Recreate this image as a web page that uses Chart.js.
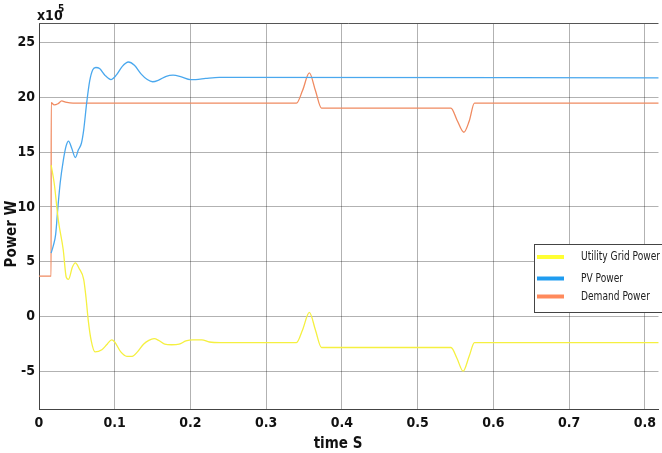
<!DOCTYPE html>
<html>
<head>
<meta charset="utf-8">
<script src="https://cdn.jsdelivr.net/npm/chart.js@4.4.0/dist/chart.umd.min.js"></script>
<style>
  html, body { margin: 0; padding: 0; background: #fff; overflow: hidden; }
  #wrap { width: 662px; height: 453px; position: relative; }
</style>
</head>
<body>
<div id="wrap"><canvas id="chart" width="662" height="453"></canvas></div>
<script>
// values in units of 1e5 W, time in seconds
const xTicks = [0, 0.1, 0.2, 0.3, 0.4, 0.5, 0.6, 0.7, 0.8];
const yTicks = [-5, 0, 5, 10, 15, 20, 25];

const gridTime = [0.016, 0.02, 0.0255, 0.032, 0.036, 0.039, 0.044, 0.048, 0.053, 0.059, 0.062, 0.065, 0.069, 0.074,
  0.083, 0.09, 0.096, 0.1, 0.108, 0.116, 0.123, 0.13, 0.138, 0.145, 0.152, 0.158, 0.166, 0.175, 0.185, 0.194,
  0.203, 0.215, 0.225, 0.24, 0.34, 0.348, 0.357, 0.365, 0.373, 0.544, 0.552, 0.56, 0.568, 0.575, 0.82];
const gridPower = [13.8, 12.2, 8.8, 6.1, 3.6, 3.4, 4.5, 4.9, 4.4, 3.4, 1.8, -0.3, -2.2, -3.2,
  -3.0, -2.5, -2.1, -2.3, -3.2, -3.6, -3.6, -3.2, -2.5, -2.15, -2.0, -2.15, -2.5, -2.55, -2.5, -2.2,
  -2.1, -2.1, -2.3, -2.35, -2.35, -1.2, 0.4, -1.2, -2.8, -2.8, -3.8, -4.95, -3.6, -2.35, -2.35];

const pvTime = [0.016, 0.019, 0.022, 0.025, 0.028, 0.032, 0.036, 0.039, 0.043, 0.048, 0.052, 0.056, 0.059, 0.063,
  0.067, 0.071, 0.075, 0.08, 0.087, 0.095, 0.102, 0.11, 0.118, 0.126, 0.135, 0.143, 0.15, 0.158, 0.168,
  0.177, 0.188, 0.2, 0.207, 0.22, 0.238, 0.82];
const pvPower = [5.8, 6.5, 7.5, 10, 12.2, 14.2, 15.6, 16.0, 15.4, 14.5, 15.2, 15.8, 17, 19.5,
  21.5, 22.5, 22.7, 22.6, 22.0, 21.6, 22.0, 22.8, 23.2, 22.9, 22.1, 21.6, 21.4, 21.55, 21.9,
  22.0, 21.85, 21.6, 21.6, 21.7, 21.8, 21.75];

const demandTime = [0, 0.016, 0.0161, 0.02, 0.025, 0.03, 0.035, 0.045, 0.34, 0.348, 0.357, 0.365, 0.373,
  0.544, 0.552, 0.561, 0.568, 0.575, 0.82];
const demandPower = [3.7, 3.7, 19.5, 19.3, 19.4, 19.65, 19.55, 19.45, 19.45, 20.6, 22.2, 20.6, 19.0,
  19.0, 17.9, 16.8, 17.8, 19.45, 19.45];

const seriesNames = ['Utility Grid Power', 'PV Power', 'Demand Power'];
const lineColors = ['#f5f040', '#4aa8ee', '#f08a60'];
const legendColors = ['#ffff33', '#1f9cf0', '#ff8a5c'];

const font = "'Liberation Sans Narrow', 'DejaVu Sans Condensed', Roboto, sans-serif";

function pts(xs, ys) {
  return xs.map((x, i) => ({ x: x, y: ys[i] }));
}

const extras = {
  id: 'extras',
  afterDatasetsDraw(chart) {
    const ctx = chart.ctx;
    const a = chart.chartArea;
    ctx.save();
    // top frame line
    ctx.strokeStyle = '#555';
    ctx.lineWidth = 1;
    ctx.beginPath();
    ctx.moveTo(a.left, a.top + 0.5);
    ctx.lineTo(a.right, a.top + 0.5);
    ctx.stroke();

    // exponent label
    ctx.fillStyle = '#111';
    ctx.textBaseline = 'alphabetic';
    ctx.textAlign = 'left';
    ctx.font = 'bold 14px ' + font;
    ctx.fillText('x10', 37, 20);
    ctx.font = 'bold 10px ' + font;
    ctx.fillText('5', 58, 12);

    // axis titles
    ctx.font = 'bold 15px ' + font;
    ctx.textAlign = 'center';
    ctx.textBaseline = 'middle';
    ctx.fillText('time S', 338, 444);
    ctx.save();
    ctx.translate(12, 234);
    ctx.rotate(-Math.PI / 2);
    ctx.fillText('Power W', 0, 0);
    ctx.restore();

    // legend box
    ctx.fillStyle = '#fff';
    ctx.fillRect(534, 244, 140, 68);
    ctx.strokeStyle = '#444';
    ctx.strokeRect(534.5, 244.5, 140, 68);
    const rows = [257, 278.5, 296.5];
    ctx.font = '12px ' + font;
    ctx.textAlign = 'left';
    rows.forEach((y, i) => {
      ctx.strokeStyle = legendColors[i];
      ctx.lineWidth = 4;
      ctx.beginPath();
      ctx.moveTo(537, y);
      ctx.lineTo(564, y);
      ctx.stroke();
      ctx.fillStyle = '#222';
      const w = ctx.measureText(seriesNames[i]).width;
      ctx.fillText(seriesNames[i], 581, y, w * 79 / ctx.measureText(seriesNames[0]).width);
    });
    ctx.restore();
  }
};

new Chart(document.getElementById('chart'), {
  type: 'line',
  data: {
    datasets: [
      { label: seriesNames[0], data: pts(gridTime, gridPower), borderColor: lineColors[0] },
      { label: seriesNames[1], data: pts(pvTime, pvPower), borderColor: lineColors[1] },
      { label: seriesNames[2], data: pts(demandTime, demandPower), borderColor: lineColors[2] }
    ].map(d => Object.assign(d, {
      borderWidth: 1.3,
      pointRadius: 0,
      fill: false,
      cubicInterpolationMode: 'monotone'
    }))
  },
  options: {
    responsive: false,
    animation: false,
    layout: { padding: { top: 23, left: 0, right: 0, bottom: 0 } },
    plugins: { legend: { display: false }, tooltip: { enabled: false } },
    scales: {
      x: {
        type: 'linear',
        min: 0,
        max: 0.818,
        afterBuildTicks: s => { s.ticks = xTicks.map(v => ({ value: v })); },
        afterFit: s => { s.height = 44; },
        grid: { color: 'rgba(0,0,0,0.3)', drawTicks: false },
        border: { color: '#444', width: 1 },
        ticks: {
          padding: 6,
          color: '#111',
          font: { family: font, size: 14, weight: 'bold' },
          maxRotation: 0,
          callback: v => v === 0 ? '0' : v.toFixed(1)
        }
      },
      y: {
        min: -8.4,
        max: 26.75,
        afterBuildTicks: s => { s.ticks = yTicks.map(v => ({ value: v })); },
        afterFit: s => { s.width = 39; },
        grid: { color: 'rgba(0,0,0,0.3)', drawTicks: false },
        border: { color: '#444', width: 1 },
        ticks: {
          padding: 4,
          color: '#111',
          font: { family: font, size: 14, weight: 'bold' },
          callback: v => String(v)
        }
      }
    }
  },
  plugins: [extras]
});
</script>
</body>
</html>
